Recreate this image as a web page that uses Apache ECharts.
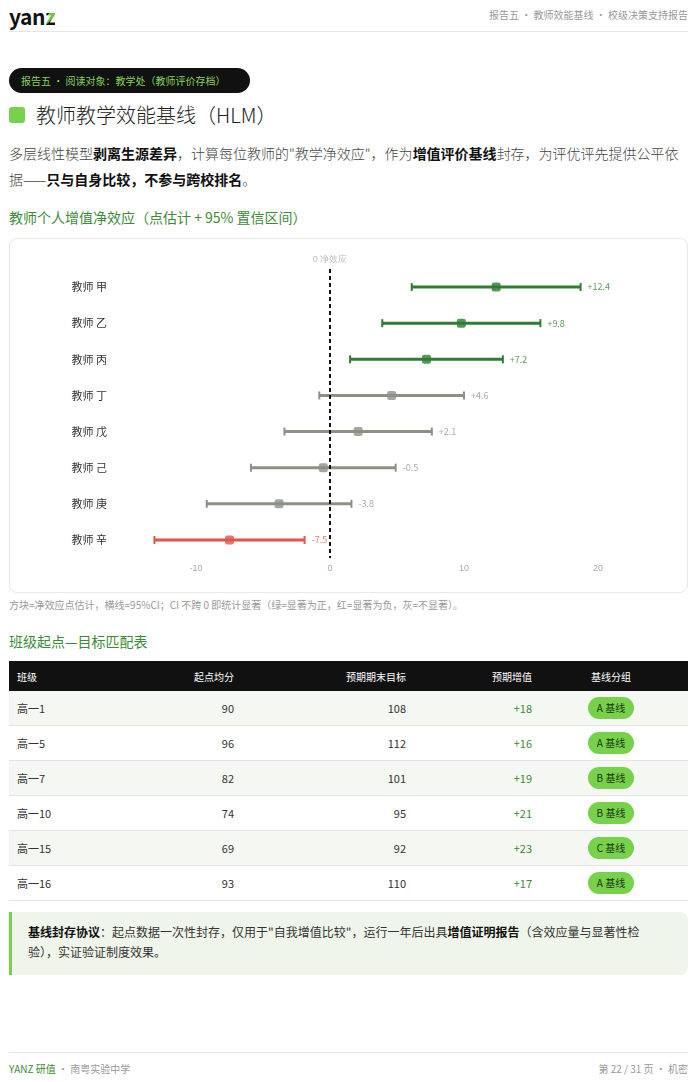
<!DOCTYPE html>
<html>
<head>
<meta charset="utf-8">
<script src="https://cdn.jsdelivr.net/npm/echarts@6/dist/echarts.min.js"></script>
<style>
  body { margin: 0; background: #fff; font-family: "Noto Sans CJK SC", "Noto Sans", sans-serif; color: #333; }
  #page { position: relative; width: 697px; height: 1082px; overflow: hidden; }
  .abs { position: absolute; }
  .logo { left: 9px; top: 1px; font-size: 21px; font-weight: 700; color: #111; letter-spacing: -0.5px; }
  .logo span { background: linear-gradient(135deg, #111 0%, #111 40%, #6cc93f 41%, #6cc93f 62%, #111 63%); -webkit-background-clip: text; background-clip: text; color: transparent; }
  .hdr { right: 9px; top: 7px; font-size: 10px; color: #999; }
  .hline { left: 9px; width: 679px; height: 1px; background: #e6e6e6; }
  .badge { left: 9px; top: 68px; width: 241px; height: 25px; border-radius: 13px; background: #111; color: #86d45a; font-size: 10px; line-height: 25px; padding-left: 12px; box-sizing: border-box; }
  .sq { left: 9px; top: 107px; width: 16px; height: 16px; border-radius: 3px; background: #77d14a; }
  .title { left: 36px; top: 101px; font-size: 20px; line-height: 28px; color: #222; font-weight: 300; }
  .para { left: 9px; top: 140px; width: 681px; font-size: 14px; line-height: 26px; color: #444; font-weight: 300; }
  .para b { color: #111; font-weight: 700; }
  .sub { left: 9px; font-size: 14px; line-height: 20px; color: #3d8b37; }
  .card { left: 9px; top: 238px; width: 679px; height: 355px; border: 1px solid #e8e8e8; border-radius: 8px; box-sizing: border-box; }
  #chart { width: 677px; height: 353px; }
  .cap { left: 9px; top: 597px; font-size: 10px; color: #999; }
  table { position: absolute; left: 9px; top: 661px; width: 679px; border-collapse: collapse; table-layout: fixed; }
  th { background: #111; color: #fff; font-size: 10px; font-weight: 400; height: 30px; padding: 0 8px; }
  td { font-size: 11px; color: #333; height: 34px; padding: 0 8px; border-bottom: 1px solid #e4e4e4; }
  tr.alt td { background: #f5f7f2; }
  .l { text-align: left; } .r { text-align: right; } .c { text-align: center; padding-right: 14px; }
  td.gain { color: #3d8b37; }
  .pill { display: inline-block; background: #77d14a; color: #1c3512; font-size: 10px; line-height: 22px; padding: 0 9px; border-radius: 11px; }
  .note { left: 9px; top: 912px; width: 679px; height: 63px; box-sizing: border-box; background: #eff5ea; border-left: 3px solid #77d14a; border-radius: 0 8px 8px 0; padding: 10px 20px 0 16px; font-size: 12px; line-height: 20px; color: #333; }
  .note b { color: #111; }
  .foot { top: 1061px; font-size: 10px; color: #999; }
</style>
</head>
<body>
<div id="page">
  <div class="abs logo">yan<span>z</span></div>
  <div class="abs hdr">报告五 · 教师效能基线 · 校级决策支持报告</div>
  <div class="abs hline" style="top:31px"></div>

  <div class="abs badge">报告五 · 阅读对象：教学处（教师评价存档）</div>
  <div class="abs sq"></div>
  <div class="abs title">教师教学效能基线（HLM）</div>
  <div class="abs para">多层线性模型<b>剥离生源差异</b>，计算每位教师的"教学净效应"，作为<b>增值评价基线</b>封存，为评优评先提供公平依据——<b>只与自身比较，不参与跨校排名</b>。</div>

  <div class="abs sub" style="top:207px">教师个人增值净效应（点估计 + 95% 置信区间）</div>
  <div class="abs card"><div id="chart"></div></div>
  <div class="abs cap">方块=净效应点估计，横线=95%CI；CI 不跨 0 即统计显著（绿=显著为正，红=显著为负，灰=不显著）。</div>

  <div class="abs sub" style="top:631px">班级起点—目标匹配表</div>
  <table id="tbl">
    <colgroup><col style="width:150px"><col style="width:83px"><col style="width:172px"><col style="width:126px"><col></colgroup>
    <thead><tr><th class="l">班级</th><th class="r">起点均分</th><th class="r">预期期末目标</th><th class="r">预期增值</th><th class="c">基线分组</th></tr></thead>
    <tbody></tbody>
  </table>

  <div class="abs note"><b>基线封存协议</b>：起点数据一次性封存，仅用于"自我增值比较"，运行一年后出具<b>增值证明报告</b>（含效应量与显著性检验），实证验证制度效果。</div>

  <div class="abs hline" style="top:1052px"></div>
  <div class="abs foot" style="left:9px"><span style="color:#3d8b37">YANZ 研值</span> · 南粤实验中学</div>
  <div class="abs foot" style="right:9px">第 22 / 31 页 · 机密</div>
</div>

<script>
// 教师
var teachers = ['教师 甲', '教师 乙', '教师 丙', '教师 丁', '教师 戊', '教师 己', '教师 庚', '教师 辛'];
// 点估计
var estimates = [12.4, 9.8, 7.2, 4.6, 2.1, -0.5, -3.8, -7.5];
// 95% CI 下限 / 上限
var ciLow = [6.1, 3.9, 1.5, -0.8, -3.4, -5.9, -9.2, -13.1];
var ciHigh = [18.7, 15.7, 12.9, 10.0, 7.6, 4.9, 1.6, -1.9];
// x 轴刻度
var xTicks = [-10, 0, 10, 20];

// 班级表
var classes = ['高一1', '高一5', '高一7', '高一10', '高一15', '高一16'];
var startAvg = [90, 96, 82, 74, 69, 93];
var targetScore = [108, 112, 101, 95, 92, 110];
var expectedGain = [18, 16, 19, 21, 23, 17];
var baselineGroup = ['A 基线', 'A 基线', 'B 基线', 'B 基线', 'C 基线', 'A 基线'];

// 填充表格
var tbody = document.querySelector('#tbl tbody');
for (var i = 0; i < classes.length; i++) {
  var tr = document.createElement('tr');
  if (i % 2 === 0) tr.className = 'alt';
  tr.innerHTML = '<td class="l">' + classes[i] + '</td>'
    + '<td class="r">' + startAvg[i] + '</td>'
    + '<td class="r">' + targetScore[i] + '</td>'
    + '<td class="r gain">+' + expectedGain[i] + '</td>'
    + '<td class="c"><span class="pill">' + baselineGroup[i] + '</span></td>';
  tbody.appendChild(tr);
}

// 颜色: 显著为正 / 显著为负 / 不显著
function lineColor(i) {
  if (ciLow[i] > 0) return '#2e7d32';
  if (ciHigh[i] < 0) return '#e05548';
  return '#8c9186';
}
function labelColor(i) {
  if (ciLow[i] > 0) return '#5d9c57';
  if (ciHigh[i] < 0) return '#e8776d';
  return '#aaaaaa';
}
function fmt(v) {
  return (v > 0 ? '+' : '') + v.toFixed(1);
}

var ciData = teachers.map(function (t, i) { return [i, ciLow[i], ciHigh[i]]; });
var pointData = teachers.map(function (t, i) {
  return { value: [estimates[i], i], itemStyle: { color: lineColor(i) } };
});

function renderCI(params, api) {
  var idx = api.value(0);
  var a = api.coord([api.value(1), idx]);
  var b = api.coord([api.value(2), idx]);
  var col = lineColor(idx);
  var cap = 4;
  return {
    type: 'group',
    children: [
      { type: 'line', shape: { x1: a[0], y1: a[1], x2: b[0], y2: b[1] }, style: { stroke: col, lineWidth: 3 } },
      { type: 'line', shape: { x1: a[0], y1: a[1] - cap, x2: a[0], y2: a[1] + cap }, style: { stroke: col, lineWidth: 2 } },
      { type: 'line', shape: { x1: b[0], y1: b[1] - cap, x2: b[0], y2: b[1] + cap }, style: { stroke: col, lineWidth: 2 } },
      { type: 'text', x: b[0] + 7, y: b[1], style: { text: fmt(estimates[idx]), fill: labelColor(idx), font: '9px "Noto Sans CJK SC"', align: 'left', verticalAlign: 'middle' } }
    ]
  };
}

var chart = echarts.init(document.getElementById('chart'));
chart.setOption({
  animation: false,
  grid: { left: 119, right: 22, top: 30, bottom: 34 },
  xAxis: {
    type: 'value', min: -15, max: 25,
    axisLine: { show: false }, axisTick: { show: false }, splitLine: { show: false },
    axisLabel: { customValues: xTicks, color: '#aaa', fontSize: 9, margin: 6 }
  },
  yAxis: {
    type: 'category', data: teachers, inverse: true,
    axisLine: { show: false }, axisTick: { show: false },
    axisLabel: { color: '#333', fontSize: 11, margin: 22, fontFamily: 'Noto Sans CJK SC' }
  },
  series: [{
    type: 'custom',
    renderItem: renderCI,
    encode: { x: [1, 2], y: 0 },
    data: ciData,
    z: 2,
    markLine: {
      silent: true, symbol: 'none',
      lineStyle: { color: '#111', type: [4, 3], width: 2 },
      label: { show: true, position: 'start', formatter: '0 净效应', color: '#bbb', fontSize: 9 },
      data: [{ xAxis: 0 }]
    }
  }, {
    type: 'scatter',
    symbol: 'roundRect',
    symbolSize: 9,
    data: pointData,
    z: 3
  }]
});
</script>
</body>
</html>
